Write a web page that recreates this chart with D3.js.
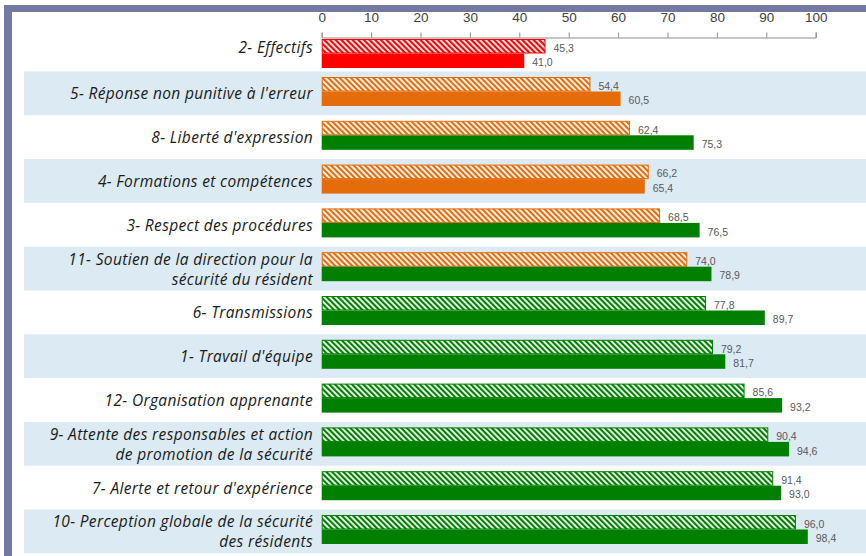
<!DOCTYPE html>
<html>
<head>
<meta charset="utf-8">
<script src="https://cdn.jsdelivr.net/npm/d3@7"></script>
<style>
  html, body { margin: 0; padding: 0; background: #ffffff; }
  svg { display: block; }
</style>
</head>
<body>
<svg id="chart" width="866" height="556"></svg>
<script>
// ---- data ----
const categories = [
  "2- Effectifs",
  "5- Réponse non punitive à l'erreur",
  "8- Liberté d'expression",
  "4- Formations et compétences",
  "3- Respect des procédures",
  "11- Soutien de la direction pour la\nsécurité du résident",
  "6- Transmissions",
  "1- Travail d'équipe",
  "12- Organisation apprenante",
  "9- Attente des responsables et action\nde promotion de la sécurité",
  "7- Alerte et retour d'expérience",
  "10- Perception globale de la sécurité\ndes résidents"
];
const previousScores = [45.3, 54.4, 62.4, 66.2, 68.5, 74.0, 77.8, 79.2, 85.6, 90.4, 91.4, 96.0]; // hatched
const currentScores  = [41.0, 60.5, 75.3, 65.4, 76.5, 78.9, 89.7, 81.7, 93.2, 94.6, 93.0, 98.4]; // solid
const xTicks = [0, 10, 20, 30, 40, 50, 60, 70, 80, 90, 100];
const thresholds = [50, 75];
const levelColors = ["#ff0000", "#e46c0a", "#007f00"];

// ---- setup ----
const svg = d3.select("#chart");
const W = 866, H = 556;
const axisY = 37.5;

const x = d3.scaleLinear().domain([0, 100]).range([321.7, 815.7]);
const y = d3.scaleBand().domain(categories).range([27.7, 553.3]).padding(0);
const color = d3.scaleThreshold().domain(thresholds).range(levelColors);

const defs = svg.append("defs");
levelColors.forEach((c, i) => {
  const p = defs.append("pattern")
    .attr("id", "hatch" + i)
    .attr("patternUnits", "userSpaceOnUse")
    .attr("width", 4).attr("height", 4)
    .attr("patternTransform", "rotate(-45)");
  p.append("rect").attr("width", 4).attr("height", 4).attr("fill", "#ffffff");
  p.append("rect").attr("width", 2.2).attr("height", 4).attr("fill", c);
});
const hatchId = v => "url(#hatch" + levelColors.indexOf(color(v)) + ")";

// background
svg.append("rect").attr("width", W).attr("height", H).attr("fill", "#ffffff");

// row bands
svg.append("g").selectAll("rect")
  .data(categories.filter((c, i) => i % 2 === 1))
  .join("rect")
  .attr("x", 24).attr("width", W - 24)
  .attr("y", d => y(d)).attr("height", y.bandwidth())
  .attr("fill", "#dbeaf3");

// frame
svg.append("rect").attr("x", 4).attr("y", 5).attr("width", W - 4).attr("height", 7).attr("fill", "#7479a4");
svg.append("rect").attr("x", 4).attr("y", 5).attr("width", 8).attr("height", H - 5).attr("fill", "#7479a4");

// axis
const axis = svg.append("g")
  .attr("transform", `translate(0,${axisY})`)
  .call(d3.axisTop(x).tickValues(xTicks).tickSize(5).tickSizeOuter(5).tickPadding(11));
axis.selectAll("path, line").attr("stroke", "#8c8c8c");
axis.selectAll("text")
  .attr("fill", "#404040")
  .style("font-family", "'Liberation Sans', Arial, sans-serif")
  .style("font-size", "13.5px");

// bars
const barH = 14.5;
const rows = categories.map((c, i) => ({ c, prev: previousScores[i], cur: currentScores[i] }));
const barTop = d => Math.max(y(d.c) + 5.5, axisY + 1.5);

const g = svg.append("g");
g.selectAll("rect.prev").data(rows).join("rect")
  .attr("class", "prev")
  .attr("x", x(0) + 0.5)
  .attr("y", d => barTop(d) + 0.5)
  .attr("width", d => x(d.prev) - x(0) - 1)
  .attr("height", barH - 1)
  .attr("fill", d => hatchId(d.prev))
  .attr("stroke", d => color(d.prev))
  .attr("stroke-width", 1);

g.selectAll("rect.cur").data(rows).join("rect")
  .attr("class", "cur")
  .attr("x", x(0))
  .attr("y", d => barTop(d) + barH)
  .attr("width", d => x(d.cur) - x(0))
  .attr("height", barH)
  .attr("fill", d => color(d.cur));

// value labels
const fmt = v => d3.format(".1f")(v).replace(".", ",");
const lblStyle = sel => sel
  .attr("fill", "#595959")
  .attr("dominant-baseline", "central")
  .style("font-family", "'Liberation Sans', Arial, sans-serif")
  .style("font-size", "10.5px");

g.selectAll("text.prev").data(rows).join("text")
  .attr("class", "prev")
  .attr("x", d => x(d.prev) + 8)
  .attr("y", d => barTop(d) + barH / 2 + 1.5)
  .text(d => fmt(d.prev))
  .call(lblStyle);

g.selectAll("text.cur").data(rows).join("text")
  .attr("class", "cur")
  .attr("x", d => x(d.cur) + 8)
  .attr("y", d => barTop(d) + barH * 1.5 + 1.5)
  .text(d => fmt(d.cur))
  .call(lblStyle);

// category labels
const lab = svg.append("g").selectAll("text").data(categories).join("text")
  .attr("x", 313)
  .attr("text-anchor", "end")
  .attr("fill", "#1a1a1a")
  .style("font-family", "'Open Sans', sans-serif")
  .style("font-style", "italic")
  .style("font-size", "15.5px")
  .style("letter-spacing", "0.35px");
lab.each(function(d) {
  const lines = d.split("\n");
  const rowIdx = categories.indexOf(d);
  const center = rowIdx === 0 ? 47 : y(d) + y.bandwidth() / 2;
  const t = d3.select(this);
  lines.forEach((ln, k) => {
    t.append("tspan")
      .attr("x", 313)
      .attr("y", center + (k - (lines.length - 1) / 2) * 20)
      .attr("dominant-baseline", "central")
      .text(ln);
  });
});
</script>
</body>
</html>
